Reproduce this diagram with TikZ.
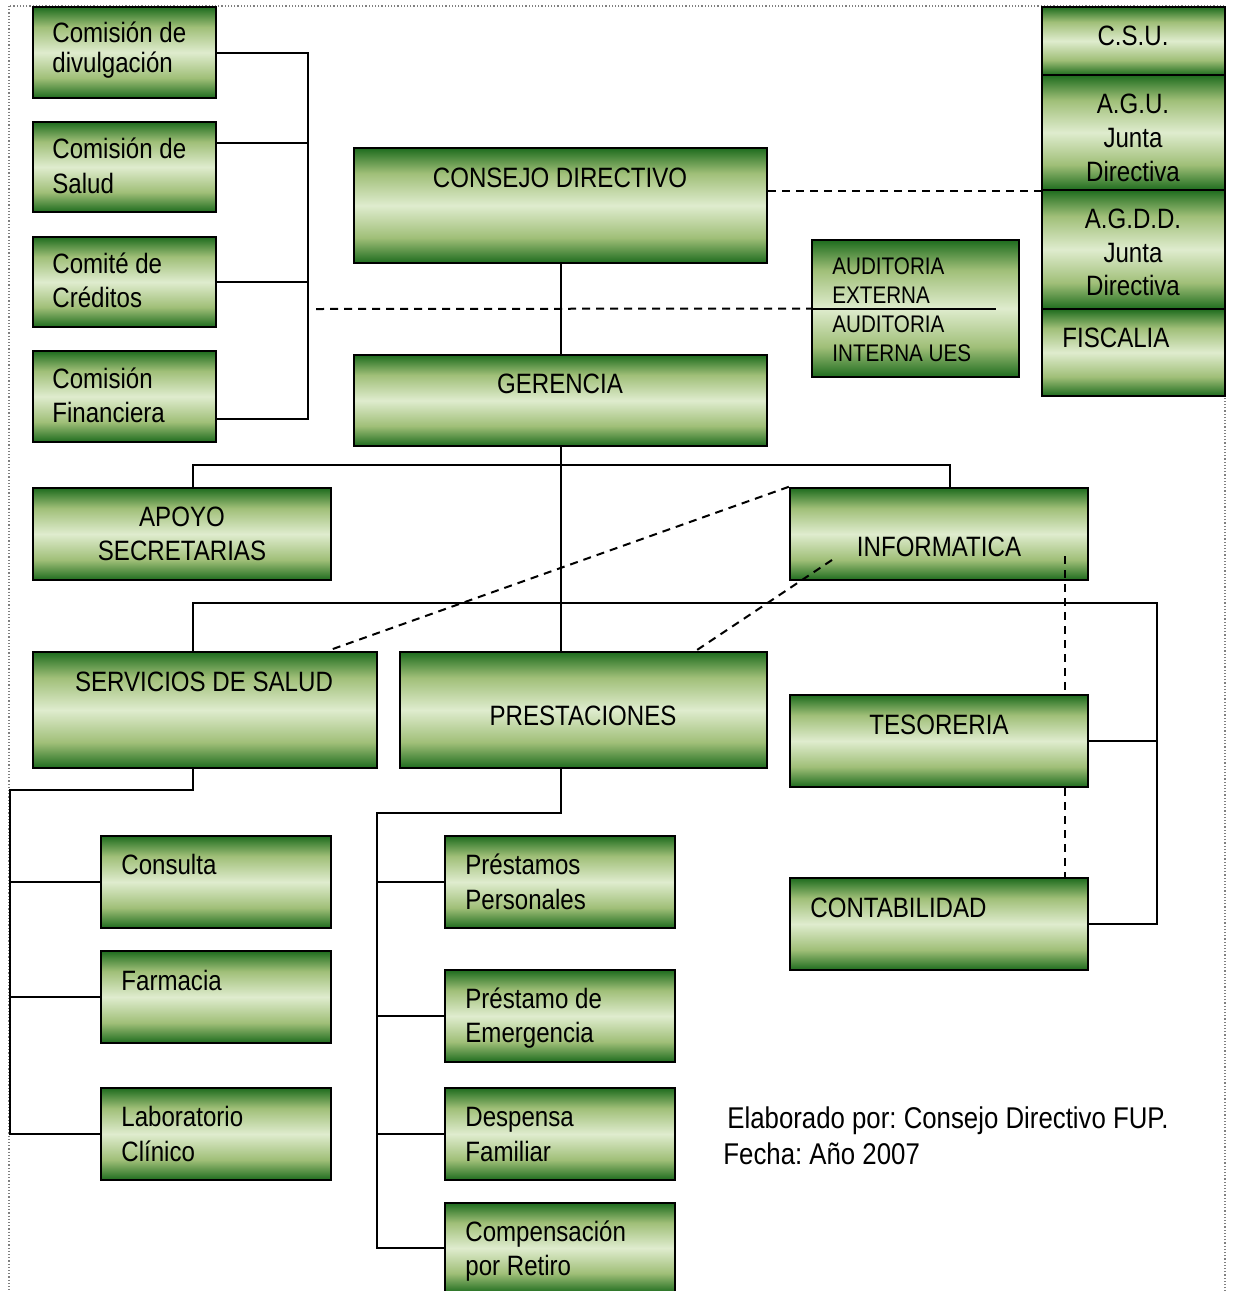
\documentclass[tikz,border=0pt]{standalone}
\usepackage{fontspec}
\setmainfont{Liberation Sans}[FakeStretch=0.86]
\frenchspacing
\usetikzlibrary{fit}
\definecolor{gdark}{RGB}{30,108,30}
\definecolor{gmid}{RGB}{160,191,120}
\definecolor{gpale}{RGB}{223,236,206}
\pgfdeclareverticalshading{greenband}{100bp}{color(0bp)=(gdark); color(25bp)=(gdark); color(36bp)=(gmid); color(50bp)=(gpale); color(64bp)=(gmid); color(75bp)=(gdark); color(100bp)=(gdark)}
\tikzstyle{unit}=[draw=black, line width=1.2pt, shade, shading=greenband, inner sep=0pt]
\tikzstyle{lbl}=[inner sep=0pt, font=\fontsize{14}{16}\selectfont]
\tikzstyle{slbl}=[inner sep=0pt, font=\fontsize{12}{14}\selectfont]
\tikzstyle{flbl}=[inner sep=0pt, font=\fontsize{15}{17}\selectfont]
\tikzstyle{link}=[line width=1pt]
\tikzstyle{dlink}=[line width=1pt, dash pattern=on 4pt off 3pt]
\begin{document}
\begin{tikzpicture}[x=0.5pt, y=-0.5pt]
        \useasboundingbox (0,0) rectangle (1235,1291);
        \clip (0,0) rectangle (1235,1291);
        \draw[gray, densely dotted, line width=0.6pt] (9,6) rectangle (1225,1300);
        % committees
        \node[unit, fit={(33,7) (216,98)}]    (c1) {};
        \node[unit, fit={(33,122) (216,212)}] (c2) {};
        \node[unit, fit={(33,237) (216,327)}] (c3) {};
        \node[unit, fit={(33,351) (216,442)}] (c4) {};
        \node[lbl, anchor=base west] (c1a) at (52,42)  {Comisión de};
        \node[lbl, anchor=base west] (c1b) at (52,72)  {divulgación};
        \node[lbl, anchor=base west] (c2a) at (52,158) {Comisión de};
        \node[lbl, anchor=base west] (c2b) at (52,193) {Salud};
        \node[lbl, anchor=base west] (c3a) at (52,273) {Comité de};
        \node[lbl, anchor=base west] (c3b) at (52,307) {Créditos};
        \node[lbl, anchor=base west] (c4a) at (52,388) {Comisión};
        \node[lbl, anchor=base west] (c4b) at (52,422) {Financiera};
        % direction
        \node[unit, fit={(354,148) (767,263)}] (cd) {};
        \node[lbl, anchor=base] (cdt) at (560,187) {CONSEJO DIRECTIVO};
        \node[unit, fit={(354,355) (767,446)}] (ger) {};
        \node[lbl, anchor=base] (gert) at (560,393) {GERENCIA};
        \node[unit, fit={(812,240) (1019,377)}] (aud) {};
        \node[slbl, anchor=base west] (auda) at (832,274) {AUDITORIA};
        \node[slbl, anchor=base west] (audb) at (832,303) {EXTERNA};
        \node[slbl, anchor=base west] (audc) at (832,332) {AUDITORIA};
        \node[slbl, anchor=base west] (audd) at (832,361) {INTERNA UES};
        % right stack
        \node[unit, fit={(1042,7) (1225,75)}]    (csu) {};
        \node[unit, fit={(1042,75) (1225,190)}]  (agu) {};
        \node[unit, fit={(1042,190) (1225,309)}] (agdd) {};
        \node[unit, fit={(1042,309) (1225,396)}] (fisc) {};
        \node[lbl, anchor=base] (csut) at (1133,45) {C.S.U.};
        \node[lbl, anchor=base] (agua) at (1133,113) {A.G.U.};
        \node[lbl, anchor=base] (agub) at (1133,147) {Junta};
        \node[lbl, anchor=base] (aguc) at (1133,181) {Directiva};
        \node[lbl, anchor=base] (agdda) at (1133,228) {A.G.D.D.};
        \node[lbl, anchor=base] (agddb) at (1133,262) {Junta};
        \node[lbl, anchor=base] (agddc) at (1133,295) {Directiva};
        \node[lbl, anchor=base west] (fisct) at (1062,347) {FISCALIA};
        % units
        \node[unit, fit={(33,488) (331,580)}]   (apoyo) {};
        \node[lbl, anchor=base] (apoyoa) at (182,526) {APOYO};
        \node[lbl, anchor=base] (apoyob) at (182,560) {SECRETARIAS};
        \node[unit, fit={(790,488) (1088,580)}] (inf) {};
        \node[lbl, anchor=base] (inft) at (939,556) {INFORMATICA};
        \node[unit, fit={(33,652) (377,768)}]   (serv) {};
        \node[lbl, anchor=base] (servt) at (204,691) {SERVICIOS DE SALUD};
        \node[unit, fit={(400,652) (767,768)}]  (pres) {};
        \node[lbl, anchor=base] (prest) at (583,725) {PRESTACIONES};
        \node[unit, fit={(790,695) (1088,787)}] (tes) {};
        \node[lbl, anchor=base] (test) at (939,734) {TESORERIA};
        \node[unit, fit={(790,878) (1088,970)}] (cont) {};
        \node[lbl, anchor=base west] (contt) at (810,917) {CONTABILIDAD};
        % health services
        \node[unit, fit={(101,836) (331,928)}]   (cons) {};
        \node[unit, fit={(101,951) (331,1043)}]  (farm) {};
        \node[unit, fit={(101,1088) (331,1180)}] (lab) {};
        \node[lbl, anchor=base west] (const) at (121,874)  {Consulta};
        \node[lbl, anchor=base west] (farmt) at (121,990)  {Farmacia};
        \node[lbl, anchor=base west] (laba)  at (121,1126) {Laboratorio};
        \node[lbl, anchor=base west] (labb)  at (121,1161) {Clínico};
        % benefits
        \node[unit, fit={(445,836) (675,928)}]   (ppers) {};
        \node[unit, fit={(445,970) (675,1062)}]  (pemer) {};
        \node[unit, fit={(445,1088) (675,1180)}] (desp) {};
        \node[unit, fit={(445,1203) (675,1293)}] (comp) {};
        \node[lbl, anchor=base west] (ppersa) at (465,874)  {Préstamos};
        \node[lbl, anchor=base west] (ppersb) at (465,909)  {Personales};
        \node[lbl, anchor=base west] (pemera) at (465,1008) {Préstamo de};
        \node[lbl, anchor=base west] (pemerb) at (465,1042) {Emergencia};
        \node[lbl, anchor=base west] (despa)  at (465,1126) {Despensa};
        \node[lbl, anchor=base west] (despb)  at (465,1161) {Familiar};
        \node[lbl, anchor=base west] (compa)  at (465,1241) {Compensación};
        \node[lbl, anchor=base west] (compb)  at (465,1275) {por Retiro};
        % note
        \node[flbl, anchor=base west] (nota) at (727,1128) {Elaborado por: Consejo Directivo FUP.};
        \node[flbl, anchor=base west] (notb) at (723,1164) {Fecha: Año 2007};
        % connectors
        \coordinate (cbus) at (308,419);
        \coordinate (busAl) at (193,465);
        \coordinate (busAr) at (950,465);
        \coordinate (busB) at (193,603);
        \coordinate (busBr) at (1157,603);
        \coordinate (sbus) at (10,790);
        \coordinate (pbus) at (377,813);
        \coordinate (audl) at (316,309);
        \coordinate (d1) at (330,650);
        \coordinate (d2a) at (832,560);
        \coordinate (d2b) at (697,650);
        \coordinate (d3) at (1065,556);
        \draw[link] (c1.east) -| (cbus) -- (cbus -| c4.east);
        \draw[link] (c2.north east) ++(0,22) -- ++(92,0);
        \draw[link] (c3.east) -- (c3.east -| cbus);
        \draw[link] (cd.south) -- (ger.north);
        \draw[link] (ger.south) -- (ger.south |- pres.north);
        \draw[link] (apoyo.north -| busAl) -- (busAl) -- (busAr) -- (inf.north -| busAr);
        \draw[link] (serv.north -| busB) -- (busB) -- (busBr) |- (cont.east);
        \draw[link] (tes.east) -- (tes.east -| busBr);
        \draw[link] (serv.south -| busB) |- (sbus) |- (lab.west);
        \draw[link] (cons.west) -- (cons.west -| sbus);
        \draw[link] (farm.west) -- (farm.west -| sbus);
        \draw[link] (ger.south |- pres.south) |- (pbus) |- (comp.west);
        \draw[link] (ppers.west) -- (ppers.west -| pbus);
        \draw[link] (pemer.west) -- (pemer.west -| pbus);
        \draw[link] (desp.west) -- (desp.west -| pbus);
        \draw[link] (aud.west) -- ++(185,0);
        \draw[dlink] (agu.south west -| cd.east) -- (agu.south west);
        \draw[dlink] (audl) -- (aud.west);
        \draw[dlink] (inf.north west) -- (d1);
        \draw[dlink] (d2a) -- (d2b);
        \draw[dlink] (d3) -- (d3 |- tes.north);
        \draw[dlink] (d3 |- tes.south) -- (d3 |- cont.north);
    \end{tikzpicture}
\end{document}
